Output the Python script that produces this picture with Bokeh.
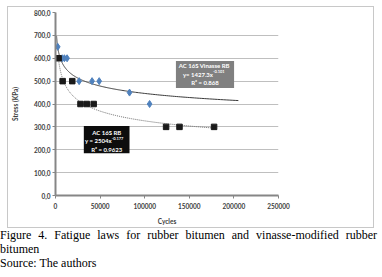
import numpy as np
from bokeh.plotting import figure
from bokeh.models import FixedTicker, Div
from bokeh.layouts import column
from bokeh.core.properties import value
from bokeh.embed import file_html
from bokeh.resources import INLINE

# ---- data ----
vin_cycles = [2500, 7500, 10000, 13000, 26500, 41000, 49000, 83000, 105500]
vin_stress = [650, 600, 600, 600, 500, 500, 500, 450, 400]
rb_cycles = [3500, 8000, 18800, 28000, 35000, 42800, 124000, 139000, 177800]
rb_stress = [600, 500, 500, 400, 400, 400, 300, 300, 300]

vin_a, vin_b = 1427.3, -0.101
rb_a, rb_b = 2504.0, -0.177
vin_trend_range = (1200, 205000)
rb_trend_range = (3500, 177800)

y_ticks = [0, 100, 200, 300, 400, 500, 600, 700, 800]
y_tick_labels = ["0,0", "100,0", "200,0", "300,0", "400,0", "500,0", "600,0", "700,0", "800,0"]
x_ticks = [0, 50000, 100000, 150000, 200000, 250000]
x_tick_labels = ["0", "50000", "100000", "150000", "200000", "250000"]

vin_box_lines = ["AC 16S Vinasse  RB", "y= 1427.3x", "-0.101", "R² = 0.868"]
rb_box_lines = ["AC 16S RB", "y = 2504x", "-0.177", "R² = 0.9623"]

caption = ("Figure 4. Fatigue laws for rubber bitumen and vinasse-modified rubber bitumen"
           "<br>Source: The authors")

FONT = "Lato"

p = figure(width=367, height=222, x_range=(0, 250000), y_range=(0, 800),
           output_backend="svg", toolbar_location=None,
           min_border_left=44, min_border_right=97, min_border_top=5, min_border_bottom=34)
p.margin = (6, 0, 0, 7)
p.styles = {"border": "1px solid #c8c8c8"}
p.outline_line_color = None
p.background_fill_color = "white"
p.border_fill_color = "white"

# grid
p.xgrid.grid_line_color = None
p.ygrid.grid_line_color = "#bfbfbf"
p.ygrid.grid_line_width = 1
p.ygrid.ticker = FixedTicker(ticks=y_ticks)

# axes
for ax in (p.xaxis[0], p.yaxis[0]):
    ax.axis_line_color = "#868686"
    ax.axis_line_width = 2
    ax.major_tick_line_color = "#868686"
    ax.major_tick_out = 3
    ax.major_tick_in = 0
    ax.minor_tick_line_color = None
    ax.major_label_text_font = FONT
    ax.major_label_text_font_size = "6.5px"
    ax.major_label_text_font_style = "bold"
    ax.major_label_text_color = "#404040"
    ax.axis_label_text_font = FONT
    ax.axis_label_text_font_size = "6.5px"
    ax.axis_label_text_font_style = "bold"
    ax.axis_label_text_color = "#404040"

p.yaxis.ticker = FixedTicker(ticks=y_ticks)
p.yaxis.major_label_overrides = dict(zip(y_ticks, y_tick_labels))
p.yaxis.major_label_standoff = 2
p.yaxis.axis_label = "Stress (KPa)"
p.yaxis.axis_label_standoff = 12

p.xaxis.ticker = FixedTicker(ticks=x_ticks)
p.xaxis.major_label_overrides = dict(zip(x_ticks, x_tick_labels))
p.xaxis.major_label_standoff = 4
p.xaxis.axis_label = "Cycles"
p.xaxis.axis_label_standoff = 6

# trend lines
vx = np.geomspace(*vin_trend_range, 300)
p.line(vx, vin_a * vx ** vin_b, line_color="#3a3a3a", line_width=1)
rx = np.geomspace(*rb_trend_range, 300)
p.line(rx, rb_a * rx ** rb_b, line_color="#6a6a6a", line_width=1, line_dash="1 1")

# points
p.scatter(vin_cycles, vin_stress, marker="diamond", size=7, fill_color="#4F81BD",
          line_color="#4F81BD")
p.scatter(rb_cycles, rb_stress, marker="square", size=5.5, fill_color="#1a1a1a",
          line_color="#1a1a1a")

# annotation boxes
p.quad(left=[135000], right=[200200], bottom=[470], top=[588], fill_color="#808080",
       line_color=None)
p.quad(left=[31750], right=[82960], bottom=[185], top=[304], fill_color="#0d0d0d",
       line_color=None)

def box_text(xc, xsplit, ys, lines):
    kw = dict(text_font=value(FONT), text_font_style="bold", text_color="white",
              text_baseline="middle")
    p.text([xc], [ys[0]], text=[lines[0]], text_align="center", text_font_size="6px", **kw)
    p.text([xsplit], [ys[1]], text=[lines[1]], text_align="right", text_font_size="6px", **kw)
    p.text([xsplit], [ys[1]], text=[lines[2]], text_align="left", text_font_size="4px",
           y_offset=-2.5, **kw)
    p.text([xc], [ys[2]], text=[lines[3]], text_align="center", text_font_size="6px", **kw)

box_text(167600, 176500, [569, 531, 494], vin_box_lines)
box_text(57400, 63000, [277, 240, 203], rb_box_lines)

div = Div(text='<div style="font-family:\'Liberation Serif\',serif;font-size:12px;'
               'line-height:14px;text-align:justify;color:#000;width:377px">'
               + caption + '</div>',
          width=377, height=42)
div.margin = (0, 0, 0, 0)

layout = column(p, div, spacing=0)
html = file_html(layout, INLINE)
html = html.replace("</head>",
                    "<style>html,body{margin:0 !important;padding:0 !important;}</style></head>", 1)
open("out.html", "w").write(html)
